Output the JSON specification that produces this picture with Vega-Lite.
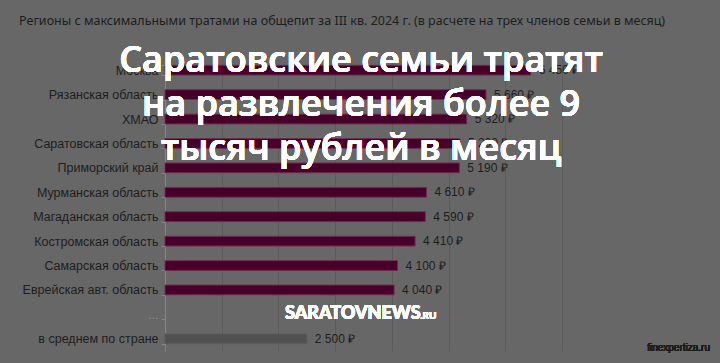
{
  "$schema": "https://vega.github.io/schema/vega-lite/v6.json",
  "autosize": "none",
  "width": 545,
  "height": 293,
  "padding": {"left": 165, "top": 58, "right": 10, "bottom": 12},
  "background": "#676767",
  "config": {
    "view": {"stroke": null},
    "locale": {"number": {"decimal": ",", "thousands": " ", "grouping": [3], "currency": ["", " ₽"]}}
  },
  "title": {
    "text": "Регионы с максимальными тратами на общепит за III кв. 2024 г. (в расчете на трех членов семьи в месяц)",
    "anchor": "start",
    "frame": "bounds",
    "dx": -3,
    "dy": 12,
    "offset": 28,
    "font": "Noto Sans",
    "fontSize": 12.5,
    "fontWeight": "normal",
    "color": "#1e1e1e"
  },
  "data": {
    "values": [
      {"region": "Москва", "value": 6450, "group": "region"},
      {"region": "Рязанская область", "value": 5660, "group": "region"},
      {"region": "ХМАО", "value": 5320, "group": "region"},
      {"region": "Саратовская область", "value": 5200, "group": "region"},
      {"region": "Приморский край", "value": 5190, "group": "region"},
      {"region": "Мурманская область", "value": 4610, "group": "region"},
      {"region": "Магаданская область", "value": 4590, "group": "region"},
      {"region": "Костромская область", "value": 4410, "group": "region"},
      {"region": "Самарская область", "value": 4100, "group": "region"},
      {"region": "Еврейская авт. область", "value": 4040, "group": "region"},
      {"region": "...", "value": null, "group": "none"},
      {"region": "в среднем по стране", "value": 2500, "group": "avg"}
    ]
  },
  "encoding": {
    "y": {
      "field": "region",
      "type": "nominal",
      "sort": null,
      "scale": {
        "domain": ["Москва", "Рязанская область", "ХМАО", "Саратовская область", "Приморский край", "Мурманская область", "Магаданская область", "Костромская область", "Самарская область", "Еврейская авт. область", "...", "в среднем по стране"],
        "paddingInner": 0.6,
        "paddingOuter": 0.3
      },
      "axis": {
        "title": null,
        "tickBand": "extent",
        "tickSize": 4,
        "tickColor": "#858585",
        "domainColor": "#858585",
        "labelFont": "Liberation Sans",
        "labelFontSize": 12.5,
        "labelPadding": 3,
        "labelColor": {"condition": {"test": "datum.value == '...'", "value": "#8a8a8a"}, "value": "#1e1e1e"}
      }
    }
  },
  "layer": [
    {
      "mark": {"type": "bar", "strokeWidth": 1},
      "encoding": {
        "x": {
          "field": "value",
          "type": "quantitative",
          "scale": {"domain": [0, 9610], "nice": false},
          "axis": {
            "title": null,
            "labels": false,
            "ticks": false,
            "domain": false,
            "grid": true,
            "values": [1000, 2000, 3000, 4000, 5000, 6000, 7000],
            "gridColor": "#5c5c5c"
          }
        },
        "color": {
          "field": "group",
          "type": "nominal",
          "scale": {"domain": ["region", "avg", "none"], "range": ["#47002a", "#515151", "#515151"]},
          "legend": null
        },
        "stroke": {
          "field": "group",
          "type": "nominal",
          "scale": {"domain": ["region", "avg", "none"], "range": ["#6f2c4c", "#5c5c5c", "#5c5c5c"]},
          "legend": null
        }
      }
    },
    {
      "transform": [{"filter": "datum.value != null"}],
      "mark": {"type": "text", "align": "left", "baseline": "middle", "dx": 8, "font": "Liberation Sans", "fontSize": 12, "color": "#1e1e1e"},
      "encoding": {
        "x": {"field": "value", "type": "quantitative"},
        "text": {"field": "value", "type": "quantitative", "format": "$,.0f"}
      }
    },
    {
      "mark": {"type": "text", "align": "center", "baseline": "middle", "dy": -9, "lineHeight": 44, "font": "Open Sans", "fontSize": 36, "fontWeight": 600, "color": "#ffffff"},
      "encoding": {
        "x": {"datum": 3457},
        "y": {"datum": "Москва"},
        "text": {"value": ["Саратовские семьи тратят", "на развлечения более 9", "тысяч рублей в месяц"]}
      }
    },
    {
      "mark": {"type": "text", "align": "left", "baseline": "alphabetic", "dy": 5, "font": "Lato", "fontSize": 18, "fontWeight": 900, "color": "#ffffff"},
      "encoding": {
        "x": {"datum": 2116},
        "y": {"datum": "..."},
        "text": {"value": "SARATOVNEWS"}
      }
    },
    {
      "mark": {"type": "text", "align": "left", "baseline": "alphabetic", "dy": 5, "font": "Lato", "fontSize": 10, "fontWeight": 700, "color": "#ffffff"},
      "encoding": {
        "x": {"datum": 4500},
        "y": {"datum": "..."},
        "text": {"value": ".RU"}
      }
    },
    {
      "mark": {"type": "text", "align": "right", "baseline": "middle", "dy": 9, "font": "Liberation Sans", "fontSize": 10, "color": "#1e1e1e"},
      "encoding": {
        "x": {"datum": 9610},
        "y": {"datum": "в среднем по стране"},
        "text": {"value": "finexpertiza.ru"}
      }
    }
  ]
}
